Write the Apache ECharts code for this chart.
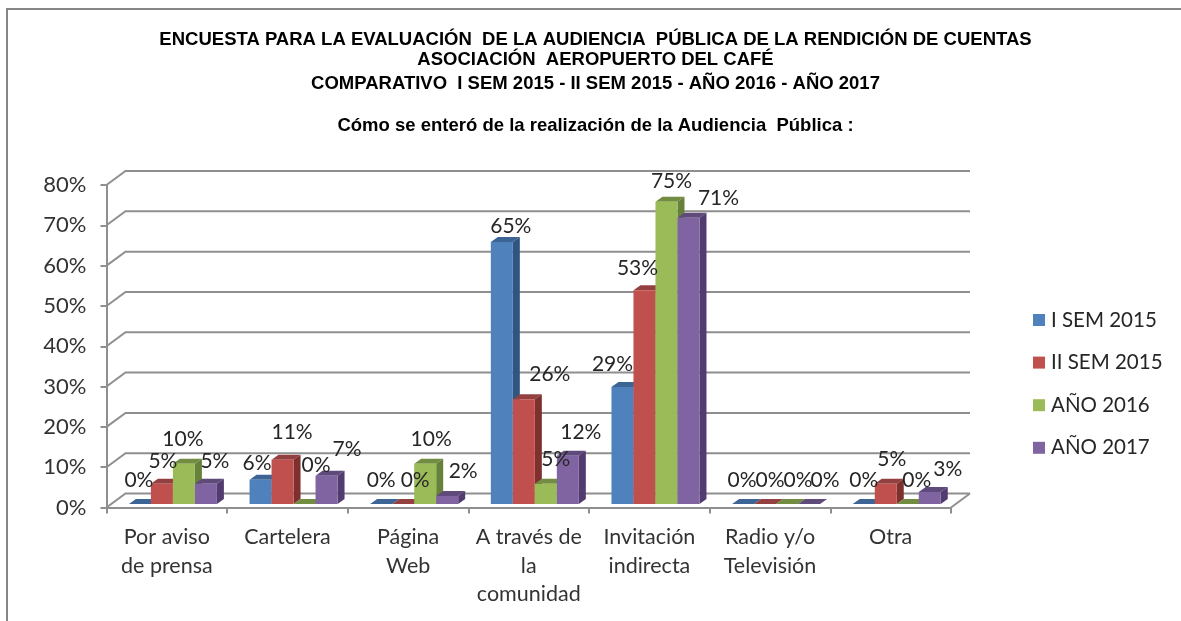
<!DOCTYPE html>
<html>
<head>
<meta charset="utf-8">
<style>html,body{margin:0;padding:0;background:#fff}#c{width:1181px;height:621px}</style>
<script src="https://cdn.jsdelivr.net/npm/echarts@6/dist/echarts.min.js"></script>
</head>
<body>
<div id="c"></div>
<script>
const categories = ['Por aviso\nde prensa','Cartelera','Página\nWeb','A través de\nla\ncomunidad','Invitación\nindirecta','Radio y/o\nTelevisión','Otra'];
const seriesNames = ['I SEM 2015','II SEM 2015','AÑO 2016','AÑO 2017'];
const sem1_2015 = [0, 0.06, 0, 0.65, 0.29, 0, 0];
const sem2_2015 = [0.05, 0.11, 0, 0.26, 0.53, 0, 0.05];
const year2016 = [0.10, 0, 0.10, 0.05, 0.75, 0, 0];
const year2017 = [0.05, 0.07, 0.02, 0.12, 0.71, 0, 0.03];
const yTicks = [0, 0.1, 0.2, 0.3, 0.4, 0.5, 0.6, 0.7, 0.8];

const titleLines = [
  ['ENCUESTA PARA LA EVALUACIÓN  DE LA AUDIENCIA  PÚBLICA DE LA RENDICIÓN DE CUENTAS', 31],
  ['ASOCIACIÓN  AEROPUERTO DEL CAFÉ', 50.5],
  ['COMPARATIVO  I SEM 2015 - II SEM 2015 - AÑO 2016 - AÑO 2017', 75],
  ['Cómo se enteró de la realización de la Audiencia  Pública :', 117]
];

// label nudges from the default spot above each bar: [dx, dy] by series then category
const labelNudge = [
  [[-1,-9],[-3.5,-2],[0,-9],[9,-1],[-10,-8],[-1,-9],[0,-9]],
  [[1,-8],[9.5,-12],[12,-9],[26,-10],[-7,-7],[5,-9],[6,-10]],
  [[-1,-9],[11.5,-24],[6,-9],[10,-10],[5,-5],[11,-9],[9,-9]],
  [[9,-8],[20.5,-12],[16,-10],[13,-8],[30,-5],[16,-9],[18,-8]]
];

const values = [sem1_2015, sem2_2015, year2016, year2017];
const faces = [
  ['#4f81bd','#3c6595','#30557f'],
  ['#c0504d','#954040','#7d302e'],
  ['#9bbb59','#728c41','#66813a'],
  ['#8064a2','#5f4a7c','#513b6f']
];
const FONT = 'Lato';
const wallDX = 19, wallDY = -14, barDX = 7, barDY = -5, liftY = -3.5, barW = 22, barInset = 22.4;
const lineC = '#8f8f8f';

function barGeom(api, sIdx) {
  const p = api.coord([api.value(0), api.value(1)]);
  const base = api.coord([api.value(0), 0]);
  const band = api.size([1, 0])[0];
  const left = p[0] - band / 2 + barInset + barW * sIdx;
  return {left, top: p[1] + liftY, bottom: base[1] + liftY};
}

function barSeries(sIdx) {
  return {
    type: 'custom',
    name: seriesNames[sIdx],
    coordinateSystem: 'cartesian2d',
    clip: false,
    z: 3,
    itemStyle: {color: faces[sIdx][0]},
    encode: {x: 0, y: 1},
    data: values[sIdx].map((v, i) => [i, v]),
    renderItem(params, api) {
      const g = barGeom(api, sIdx);
      const L = g.left, R = g.left + barW, T = g.top, B = g.bottom;
      const kids = [{
        type: 'polygon', shape: {points: [[L,T],[L+barDX,T+barDY],[R+barDX,T+barDY],[R,T]]},
        style: {fill: faces[sIdx][1]}
      }];
      if (B - T > 0.5) {
        kids.push({
          type: 'polygon', shape: {points: [[R,T],[R+barDX,T+barDY],[R+barDX,B+barDY],[R,B]]},
          style: {fill: faces[sIdx][2]}
        });
        kids.push({
          type: 'rect', shape: {x: L, y: T, width: barW, height: B - T},
          style: {fill: faces[sIdx][0]}
        });
      }
      return {type: 'group', children: kids};
    }
  };
}

const labelData = [];
values.forEach((arr, s) => arr.forEach((v, i) => labelData.push([i, v, s, labelNudge[s][i][0], labelNudge[s][i][1]])));

const option = {
  animation: false,
  backgroundColor: '#fff',
  title: titleLines.map(t => ({
    text: t[0], left: 595.5, top: t[1], textAlign: 'center', padding: 0,
    textStyle: {fontFamily: 'Liberation Sans', fontWeight: 'bold', fontSize: 18.5, color: '#000', lineHeight: 18}
  })),
  legend: {
    orient: 'vertical', left: 1033, top: 308, padding: 0,
    data: seriesNames, icon: 'rect', itemWidth: 12, itemHeight: 12, itemGap: 18.6,
    textStyle: {fontFamily: FONT, fontSize: 20.5, color: '#262626', lineHeight: 24, padding: [0,0,0,1]},
    selectedMode: false
  },
  grid: {left: 106.5, right: 230, top: 185, bottom: 113.5, containLabel: false},
  xAxis: {
    type: 'category', data: categories,
    axisLine: {show: true, lineStyle: {color: lineC, width: 2}},
    axisTick: {show: true, length: 6, lineStyle: {color: lineC, width: 2}},
    axisLabel: {interval: 0, fontFamily: FONT, fontSize: 21.5, color: '#333', lineHeight: 28.5, margin: 15.5, verticalAlign: 'top'}
  },
  yAxis: {
    type: 'value', min: 0, max: 0.8, interval: 0.1,
    axisLine: {show: true, lineStyle: {color: lineC, width: 2}},
    axisTick: {show: true, length: 6, lineStyle: {color: lineC, width: 2}},
    splitLine: {show: false},
    axisLabel: {fontFamily: FONT, fontSize: 22, color: '#333', margin: 20, padding: [4,0,0,0], formatter: v => Math.round(v * 100) + '%'}
  },
  graphic: [{
    type: 'rect', z: -1, silent: true,
    shape: {x: 7, y: 9, width: 1240, height: 700},
    style: {fill: 'none', stroke: '#868686', lineWidth: 2}
  }],
  series: [
    {
      type: 'custom', name: 'wall', coordinateSystem: 'cartesian2d', clip: false, z: 1,
      encode: {y: 0},
      data: yTicks.map(v => [v]),
      renderItem(params, api) {
        const band = api.size([1, 0])[0];
        const a = api.coord([0, api.value(0)]);
        const x0 = a[0] - band / 2, y = a[1];
        const x1 = x0 + band * categories.length;
        const kids = [{
          type: 'polyline',
          shape: {points: [[x0, y], [x0 + wallDX, y + wallDY], [x1 + wallDX, y + wallDY]]},
          style: {stroke: lineC, lineWidth: 2, fill: null}
        }];
        if (api.value(0) === 0) {
          kids.push({
            type: 'line', shape: {x1: x1, y1: y, x2: x1 + wallDX, y2: y + wallDY},
            style: {stroke: lineC, lineWidth: 2}
          });
        }
        return {type: 'group', children: kids};
      }
    },
    barSeries(0), barSeries(1), barSeries(2), barSeries(3),
    {
      type: 'custom', name: 'labels', coordinateSystem: 'cartesian2d', clip: false, z: 6,
      encode: {x: 0, y: 1},
      data: labelData,
      renderItem(params, api) {
        const s = api.value(2);
        const g = barGeom(api, s);
        return {
          type: 'text',
          x: g.left + barW / 2 + api.value(3),
          y: g.top - 15 + api.value(4),
          style: {
            text: Math.round(api.value(1) * 100) + '%',
            font: '21px ' + FONT, fill: '#262626',
            align: 'center', verticalAlign: 'middle'
          }
        };
      }
    }
  ]
};
const chart = echarts.init(document.getElementById('c'), null, {renderer: 'canvas'});
chart.setOption(option);
</script>
</body>
</html>
